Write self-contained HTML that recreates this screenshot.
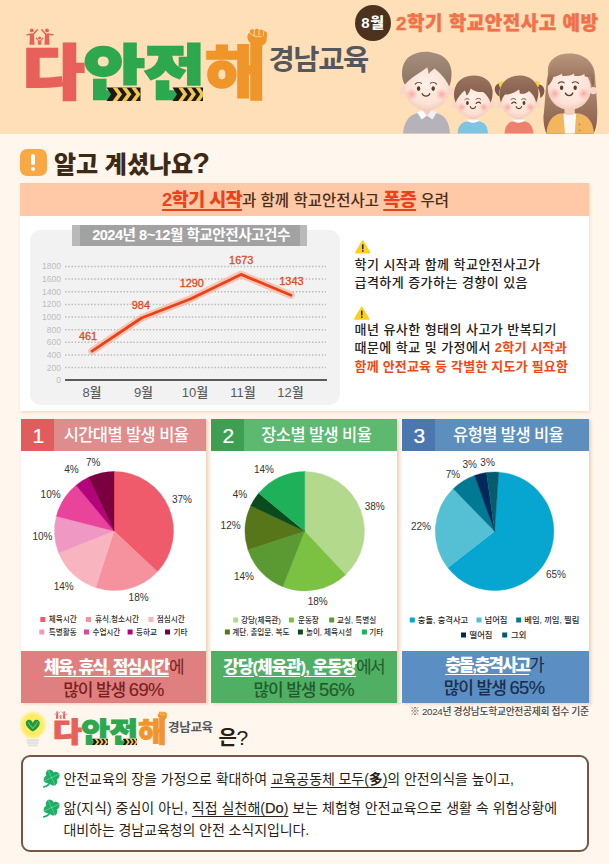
<!DOCTYPE html>
<html lang="ko">
<head>
<meta charset="utf-8">
<title>다안전해 경남교육 - 2학기 학교안전사고 예방</title>
<style>
*{margin:0;padding:0;box-sizing:border-box}
html,body{width:609px;height:864px;overflow:hidden}
body{background:#FFF6EE;font-family:"Liberation Sans","Noto Sans CJK KR",sans-serif;color:#222;position:relative}
.abs{position:absolute}
.nw{white-space:nowrap}
#hdr{left:0;top:0;width:609px;height:133.6px;background:#FFDFB7}
.logo{font-weight:900;white-space:nowrap;line-height:1;transform-origin:0 0}
.logo .c1{color:#E8605A;-webkit-text-stroke-color:#E8605A}.logo .c2{color:#2DA84F;-webkit-text-stroke-color:#2DA84F}.logo .c3{color:#F0952A;-webkit-text-stroke:1.5px #F0952A}
#logo1{left:22.6px;top:45px;font-size:59px;letter-spacing:-.7px;transform:scaleX(1.13);-webkit-text-stroke:2.4px;paint-order:stroke fill}
#org{left:268.5px;top:42px;font-size:28.5px;font-weight:700;color:#54585C;line-height:36px;letter-spacing:-1.4px}
#mon{left:354.5px;top:4.5px;width:36px;height:36px;border-radius:50%;background:#4B331D;color:#fff;font-size:15px;font-weight:900;text-align:center;line-height:35px;letter-spacing:.6px;padding-left:1px}
#ttl{left:396px;top:10.3px;font-size:19px;font-weight:900;color:#F1714A;line-height:28px;letter-spacing:.5px;-webkit-text-stroke:.35px #F1714A}
#q-ic{left:20px;top:148.5px;width:26.5px;height:27px;border-radius:7px;background:#F8A845}
#q-ic i{position:absolute;left:11.2px;top:5px;width:4px;height:11px;border-radius:2px;background:#fff}
#q-ic b{position:absolute;left:11.2px;top:18px;width:4px;height:4px;border-radius:2px;background:#fff}
#q-t{left:54px;top:145.5px;font-size:24px;font-weight:900;color:#3E2A14;line-height:34px;letter-spacing:0}
#panel{left:20px;top:183px;width:569px;height:228px;background:#fff;box-shadow:1px 1.5px 3px rgba(236,196,150,.6)}
#ban{left:20px;top:183px;width:569px;height:33px;background:#FFC8A6;text-align:center;line-height:33px;font-size:15.5px;font-weight:500;color:#4A2E1A;padding-left:2px}
#ban b{font-size:18.5px;font-weight:900;color:#E8431A;text-decoration:underline;text-decoration-thickness:1.5px;text-underline-offset:3px;letter-spacing:-.6px}
#gbox{left:30px;top:229.5px;width:310px;height:175px;border-radius:11px;background:#F2F2F2}
#glab{left:72px;top:225px;width:235px;height:21px;background:#B9B9B9}
#glab div{position:absolute;left:8px;top:0;width:220px;height:21px;padding-left:2px;background:#A2A2A2;color:#fff;font-size:14.6px;font-weight:700;line-height:21px;text-align:center;letter-spacing:-.5px;white-space:nowrap}
.para{left:354.5px;font-size:13px;font-weight:500;color:#222;line-height:18.8px;letter-spacing:.45px;white-space:nowrap}
.para em{font-style:normal;font-weight:700;color:#EE4A14;letter-spacing:.2px}
.card{top:418.5px;height:284px;background:#fff;box-shadow:1.5px 1px 2.5px rgba(222,170,125,.5)}
.card .hd{position:absolute;left:0;top:0;right:0;height:32px;color:#fff}
.card .no{position:absolute;left:0;top:0;width:33px;height:32px;font-size:21px;font-weight:400;text-align:center;line-height:33.5px;padding-left:1.5px;-webkit-text-stroke:.2px #fff}
.card .tt{position:absolute;left:33px;right:0;top:0;height:32px;font-size:16.5px;font-weight:500;text-align:center;line-height:32px;letter-spacing:-.6px;white-space:nowrap;padding-right:8px}
.card .ft{position:absolute;left:0;right:0;top:232px;text-align:center;font-size:17px;line-height:22px;letter-spacing:-1.6px;white-space:nowrap;padding-top:6px}
.card .ft span{letter-spacing:-1.05px;font-weight:500}
.card .ft i{font-style:normal;font-size:18.4px;letter-spacing:-.6px;-webkit-text-stroke:.15px}
.card .ft b{color:#fff;font-weight:900;text-decoration:underline;text-decoration-thickness:1.4px;text-underline-offset:3px}
#c1{left:21px;width:185px}
#c1 .hd{background:#DE8C8C}#c1 .no{background:#E15C5C}
#c1 .ft{background:#DF7F7F;color:#7A1F1F;height:52px}
#c2{left:211px;width:185.5px}
#c2 .hd{background:#5DB970}#c2 .no{background:#3E9E52}
#c2 .ft{background:#4FAF62;color:#1F5C2E;height:52px}#c2 .ft b{letter-spacing:-1.1px}
#c3{left:402px;width:187.2px}
#c3 .hd{background:#5C8EBE}#c3 .no{background:#4A78AE}
#c3 .ft{background:#5B8EC2;color:#1A2E4A;height:52px;padding-top:4.5px;padding-right:3px}#c3 .ft b{letter-spacing:-2.1px}
#note{left:410px;top:703.8px;font-size:9.8px;font-weight:500;color:#444;line-height:16px;letter-spacing:-.32px;white-space:nowrap}
#logo2{left:52.9px;top:718.6px;font-size:27.6px;letter-spacing:-.35px;transform:scaleX(1.13);-webkit-text-stroke:1.1px;paint-order:stroke fill}
#logo2 .c3{-webkit-text-stroke-width:.7px}
#org2{left:168px;top:719.5px;font-size:12.5px;font-weight:700;color:#54585C;line-height:16px;letter-spacing:-.3px}
#eun{left:218.5px;top:724.8px;font-size:20px;font-weight:700;color:#2A1D12;line-height:26px;letter-spacing:-.5px}
#ibox{left:20.5px;top:755.3px;width:568.3px;height:96.5px;border:2px solid #7A5546;border-radius:9px;background:#fff}
.il{left:63.5px;font-size:14px;font-weight:400;color:#2B1F18;line-height:19px;letter-spacing:-.08px;white-space:nowrap}
.il u{text-decoration-thickness:1px;text-underline-offset:2.5px}
svg text{font-family:"Liberation Sans","Noto Sans CJK KR",sans-serif}
</style>
</head>
<body>
<div id="hdr" class="abs"></div>

<!-- logo -->
<div id="logo1" class="abs logo"><span class="c1">다</span><span class="c2">안전</span><span class="c3">해</span></div>
<div id="org" class="abs nw">경남교육</div>
<div id="mon" class="abs nw">8월</div>
<div id="ttl" class="abs nw">2학기 학교안전사고 예방</div>

<svg class="abs" style="left:0;top:0" width="609" height="864" viewBox="0 0 609 864">
<defs>
<radialGradient id="skin" cx="50%" cy="42%" r="62%"><stop offset="0" stop-color="#FFF1EA"/><stop offset=".7" stop-color="#FCE2D6"/><stop offset="1" stop-color="#F2C6B4"/></radialGradient>
<radialGradient id="chk" cx="50%" cy="50%" r="50%"><stop offset="0" stop-color="#F79C98" stop-opacity=".85"/><stop offset="1" stop-color="#F9B3AA" stop-opacity="0"/></radialGradient>
<linearGradient id="hairD" x1="0" y1="0" x2="0" y2="1"><stop offset="0" stop-color="#A58E7C"/><stop offset="1" stop-color="#8C7464"/></linearGradient>
<linearGradient id="hairK" x1="0" y1="0" x2="0" y2="1"><stop offset="0" stop-color="#9A7560"/><stop offset="1" stop-color="#80594A"/></linearGradient>
<linearGradient id="hairM" x1="0" y1="0" x2="0" y2="1"><stop offset="0" stop-color="#B8947D"/><stop offset=".55" stop-color="#A47E67"/><stop offset="1" stop-color="#875B46"/></linearGradient>
<radialGradient id="bulb" cx="50%" cy="50%" r="50%"><stop offset="0" stop-color="#FFEE5C"/><stop offset=".72" stop-color="#FFEB60"/><stop offset="1" stop-color="#FFF2A0"/></radialGradient>
<g id="clover"><path d="M-1 4C-2.4 6.8 -4.8 8.8 -7.8 9.3" stroke="#1FAE66" stroke-width="1.7" fill="none" stroke-linecap="round"/><g transform="rotate(20)" fill="#1FAE66"><circle cx="-3.1" cy="-3.1" r="3.9"/><circle cx="3.1" cy="-3.1" r="3.9"/><circle cx="-3.1" cy="3.1" r="3.9"/><circle cx="3.1" cy="3.1" r="3.9"/><path d="M-6.2 -6.2L6.2 6.2M6.2 -6.2L-6.2 6.2" stroke="#7FD8AC" stroke-width=".55" fill="none"/></g></g>
</defs>

<!-- hazard stripes under logo -->
<g id="hz1"><path d="M106.5 87.6H140.5V101H106.5L111 94.3Z" fill="#1B1A17"/><path d="M112.5 87.6h4.6l5 6.7-5 6.7h-4.6l5-6.7zM121.8 87.6h4.6l5 6.7-5 6.7h-4.6l5-6.7zM131.1 87.6h4.6l4.8 6.7-4.8 6.7h-4.6l5-6.7z" fill="#F4C64B"/></g>
<g id="hz2"><path d="M172.5 87.6H203V101H172.5L177 94.3Z" fill="#1B1A17"/><path d="M178.2 87.6h4.4l4.8 6.7-4.8 6.7h-4.4l4.8-6.7zM186.8 87.6h4.4l4.8 6.7-4.8 6.7h-4.4l4.8-6.7zM195.4 87.6h4.4l3.2 4.4v4.6l-3.2 4.4h-4.4l4.8-6.7z" fill="#F4C64B"/></g>

<!-- people on top of 다 -->
<g id="ppl" fill="#E8605A" stroke="#E8605A" stroke-linecap="round">
<circle cx="31.8" cy="30.4" r="1.9" stroke="none"/><path d="M30 33.4h4l.5 11.4h-5z" stroke="none"/><path d="M30.6 34.2L27.2 34.8M33.4 34L37.4 29.8" stroke-width="1.5" fill="none"/>
<circle cx="47" cy="30.4" r="1.9" stroke="none"/><path d="M45 33.4h4l.5 11.4h-5z" stroke="none"/><path d="M48.6 34.2L52.8 34.8M45.6 34L41.8 29.8" stroke-width="1.5" fill="none"/>
<circle cx="39.6" cy="38" r="1.5" stroke="none"/><path d="M38.2 40.4h2.8l.3 4.4h-3.4z" stroke="none"/><path d="M38.6 41L36.4 38.2M40.6 41L42.8 38.2" stroke-width="1.1" fill="none"/>
</g>

<!-- fist on top of 해 -->
<g id="fist"><path d="M254.5 47V44.5C250.5 43.5 247.2 41 247.4 36.6C247.5 34.4 248.6 33.2 250 33V31.2C250 29 253.6 28.6 254.2 30.4C255.4 28 258.8 28.4 259 30.6C260.4 28.8 263.4 29.4 263.4 31.6C265.2 30.8 267.2 32 267 34.2L266.6 40C266.4 43 264.4 44.6 262.4 45.2V47Z" fill="#F0952A"/>
<path d="M254.2 30.6V35.4M259 30.8V35.4M263.4 31.8V35.6M250.2 33.2C252.5 36.4 257 37.2 261.5 36.6" stroke="#FFE0B4" stroke-width=".9" fill="none" stroke-linecap="round"/></g>

<!-- family -->
<clipPath id="hc"><rect x="380" y="0" width="229" height="133.6"/></clipPath>
<g clip-path="url(#hc)">
<g id="dad">
<path d="M403 134.5C403.5 122 409 114.5 418.5 113H435.5C445 114.5 449.5 122 450 134.5Z" fill="#B6B2BA"/>
<rect x="421.5" y="104" width="11" height="11" rx="3" fill="#F3CDBD"/>
<path d="M417.2 112.2L422.4 110.2L427 115.6L421.6 119.4Z" fill="#FBFBFC"/><path d="M436.8 112.2L431.6 110.2L427 115.6L432.4 119.4Z" fill="#F1F1F4"/>
<circle cx="403.6" cy="91" r="4.3" fill="#F8D6C8"/><circle cx="450.4" cy="91" r="4.3" fill="#F8D6C8"/>
<ellipse cx="427" cy="88" rx="22.6" ry="22.4" fill="url(#skin)"/>
<path d="M405 84.5C400.5 78 400.5 63 409.5 56.5C416 51.5 427 50.5 434 53C445 54.5 452.5 64 451.5 75C451.3 80 450.4 84 449.2 86.5C446.5 80 441 73.5 434.5 68.5C432 70.5 430 72 428.6 74.2C428.4 71 428 69 427 67.6C421 72.5 411.5 77 405 84.5Z" fill="url(#hairD)"/>
<path d="M424.4 68.8C425.6 66.6 428.4 66.4 429.6 68.6C428 68.2 426 68.2 424.4 68.8Z" fill="#F08A80" opacity=".75"/>
<circle cx="411.8" cy="94.2" r="6.2" fill="url(#chk)"/><circle cx="441.6" cy="94.2" r="6.2" fill="url(#chk)"/>
<ellipse cx="418.6" cy="88.6" rx="1.7" ry="2.3" fill="#5B3B2F"/><ellipse cx="433.2" cy="88.6" rx="1.7" ry="2.3" fill="#5B3B2F"/>
<path d="M415.2 84.2C416.8 82.2 419.6 82 421.4 83.4M430.4 83.4C432.2 82 435 82.2 436.6 84.2" stroke="#6B4A3C" stroke-width="1.1" fill="none" stroke-linecap="round"/>
<path d="M422.2 93.6C423.4 97 428.6 97 429.8 93.6" stroke="#5B3B2F" stroke-width="1.3" fill="none" stroke-linecap="round"/>
</g>
<g id="boy">
<path d="M457.5 134.5C457.8 126.5 461 122.6 466.5 121.6H479.5C485 122.6 487.8 126.5 488 134.5Z" fill="#7FC4E2"/>
<rect x="469" y="114" width="8" height="8.5" rx="2.5" fill="#F3CDBD"/>
<path d="M466.8 120.6C470 123.4 476 123.4 479.2 120.6L478.6 119.4H467.4Z" fill="#FBFBFC"/>
<circle cx="454.4" cy="105" r="3.2" fill="#F8D6C8"/><circle cx="491.8" cy="105" r="3.2" fill="#F8D6C8"/>
<ellipse cx="473" cy="101" rx="17.8" ry="17.4" fill="url(#skin)"/>
<path d="M455.6 102.5C452.6 96 453.4 85.5 460.5 79.8C466 75.4 475 74.6 481 76.6C489.5 79 494 88 492.4 96C492 99 491.4 101 490.6 102.5C489 98 486.4 94.6 483 92C478.4 92.4 474 91 470.6 88.4C469.6 92 468.6 94 466.4 95.6C466.2 93 465.6 91.6 464.6 90.4C461 93.6 457.6 97.6 455.6 102.5Z" fill="url(#hairK)"/>
<circle cx="461.8" cy="107.2" r="5" fill="url(#chk)"/><circle cx="483.8" cy="107.2" r="5" fill="url(#chk)"/>
<ellipse cx="467.4" cy="103" rx="1.4" ry="1.9" fill="#5B3B2F"/>
<path d="M476.2 103.4C477.2 101.8 479.4 101.8 480.4 103.2" stroke="#5B3B2F" stroke-width="1.2" fill="none" stroke-linecap="round"/>
<path d="M464.8 99.6C466 98.4 468 98.4 469.2 99.4M475.8 99.2C477.4 98 479.6 98.2 480.8 99.4" stroke="#6B4A3C" stroke-width=".9" fill="none" stroke-linecap="round"/>
<path d="M470.2 106.6C471 109.2 474.8 109.2 475.6 106.6" stroke="#5B3B2F" stroke-width="1.2" fill="none" stroke-linecap="round"/>
</g>
<g id="girl">
<path d="M504.5 134.5C504.8 126.5 507.5 122.6 512.5 121.6H525C530 122.6 533 126.5 533.4 134.5Z" fill="#F0806E"/>
<rect x="514.6" y="114" width="8" height="8.5" rx="2.5" fill="#F3CDBD"/>
<path d="M512.4 120.6C515.6 123.4 521.6 123.4 524.8 120.6L524.2 119.4H513Z" fill="#FBFBFC"/>
<path d="M499.4 83.4C495.4 83.8 493.6 88.4 495.6 92.4C496.6 94.6 498.4 96 499.8 96.4C498.8 92 499.6 88.4 501.6 85.4Z" fill="#80594A"/>
<path d="M538.4 84.4C542.6 84.2 545.2 88.4 544.2 92.8C543.6 95.4 541.8 97.4 540.2 98C540.6 93.4 539.2 89.4 536.8 86.4Z" fill="#80594A"/>
<path d="M498.4 82.4L502.6 81L503.8 86.2L499.8 87.4Z" fill="#F6D33A"/><path d="M535.2 80.6L539.6 82L538.6 87L534.4 85.8Z" fill="#F6D33A"/>
<circle cx="500" cy="105" r="3.2" fill="#F8D6C8"/><circle cx="537.2" cy="105" r="3.2" fill="#F8D6C8"/>
<ellipse cx="518.6" cy="101" rx="17.6" ry="17.4" fill="url(#skin)"/>
<path d="M501 102.5C498 95 499.4 85 506.5 79.6C512 75.4 521 74.6 527 76.8C535.5 79.4 540 88.4 538 96.4C537.6 99 537 101 536.2 102.5C535 97.4 532.4 93.6 529 91C526.4 93.4 523 94.4 519.6 93.6C519.8 91.8 519.6 90.6 519 89.6C514.4 93.4 508.4 94.6 505 94.4C503 96.6 501.8 99.4 501 102.500Z" fill="url(#hairK)"/>
<circle cx="507.6" cy="107.2" r="5" fill="url(#chk)"/><circle cx="530.2" cy="107.2" r="5" fill="url(#chk)"/>
<path d="M511.8 103.4C512.8 101.8 515 101.8 516 103.2" stroke="#5B3B2F" stroke-width="1.2" fill="none" stroke-linecap="round"/>
<ellipse cx="524" cy="103" rx="1.4" ry="1.9" fill="#5B3B2F"/>
<path d="M511 99.4C512.4 98.2 514.6 98.2 515.8 99.4M521.6 99.4C522.8 98.4 524.8 98.4 526 99.6" stroke="#6B4A3C" stroke-width=".9" fill="none" stroke-linecap="round"/>
<path d="M516.2 106.6C517 109.2 520.8 109.2 521.6 106.6" stroke="#5B3B2F" stroke-width="1.2" fill="none" stroke-linecap="round"/>
</g>
<g id="mom">
<path d="M548 74C546 60 557 53 570 53.4C584 53.4 595.6 62 595.2 78C596 92 598 106 597 120C596.6 126 595 131 593 135L547 135C545 131 543.4 124 543.4 117C545.4 102 545 88 548 74Z" fill="url(#hairM)"/>
<path d="M546.4 134.5C546.8 122.4 552 115 560.5 113.4H579C588 115 593.6 122.4 594 134.5Z" fill="#F2B75E"/>
<path d="M563.4 113.4H576.2L574.6 134.5H565Z" fill="#FBF8F4"/>
<circle cx="579.4" cy="124.4" r=".9" fill="#C98A32"/><circle cx="579.6" cy="130.4" r=".9" fill="#C98A32"/>
<rect x="564.4" y="104" width="10.4" height="11" rx="3" fill="#F3CDBD"/>
<circle cx="593.4" cy="90.6" r="3.6" fill="#F8D6C8"/>
<ellipse cx="569.4" cy="88.6" rx="21.6" ry="21.4" fill="url(#skin)"/>
<path d="M548 86C546.4 72 552 60 562 56C570 53 581 54.4 587.6 60.4C593.6 66 595.4 76 593.2 87C591.6 83.4 590.6 80 590.4 76.6C588.4 77 586.4 76.8 584.6 76.2L584.4 73.8C582.4 75.8 578 76.4 574.4 76L574 73.6C571 75.8 566 76.4 562.4 76L562 73.8C559.4 75.4 556.4 76.6 553.6 76.8C552.4 80.4 550.4 83.6 548 86Z" fill="url(#hairM)"/>
<circle cx="554.8" cy="93.6" r="6.4" fill="url(#chk)"/><circle cx="583.8" cy="93.6" r="6.4" fill="url(#chk)"/>
<ellipse cx="561.6" cy="87.8" rx="1.7" ry="2.3" fill="#5B3B2F"/><ellipse cx="575.2" cy="87.8" rx="1.7" ry="2.3" fill="#5B3B2F"/>
<path d="M558.2 83.4C559.8 81.6 562.6 81.4 564.2 82.8M572.4 82.8C574.2 81.4 577 81.6 578.6 83.4" stroke="#6B4A3C" stroke-width="1.1" fill="none" stroke-linecap="round"/>
<path d="M565.4 93C566.6 96.4 571.6 96.4 572.8 93" stroke="#5B3B2F" stroke-width="1.3" fill="none" stroke-linecap="round"/>
</g>

</g>
<!-- light bulb -->
<g id="bulbic">
<circle cx="32.8" cy="724.8" r="13.8" fill="#FFF3A0" opacity=".55"/>
<path d="M32.8 712C40 712 45.4 717.6 45.4 724.6C45.4 729.6 42.6 732.8 40.4 735.2C39.4 736.4 39 737.4 39 738.6H26.600C26.6 737.4 26.2 736.4 25.2 735.2C23 732.8 20.2 729.6 20.2 724.6C20.2 717.6 25.6 712 32.8 712Z" fill="url(#bulb)"/>
<path d="M32.8 731.6C28.6 729 25.8 726.2 25.8 723.2C25.8 720.6 27.8 719.4 29.8 719.8C31.4 720.2 32.4 721.600 32.800 723.200C33.2 721.6 34.2 720.2 35.8 719.8C37.8 719.4 39.8 720.6 39.8 723.2C39.8 726.2 37 729 32.8 731.600Z" fill="#23963F"/>
<path d="M28.2 722C29.4 724.4 31 726.600 32.800 728.400C34.600 726.6 36.2 724.4 37.4 722" stroke="#5CC46A" stroke-width="1.1" fill="none" stroke-linecap="round"/>
<path d="M27.4 740.2H38.2M27.8 742.8H37.8M29 745.400H36.600" stroke="#E0E0DE" stroke-width="1.9" stroke-linecap="round" fill="none"/>
</g>
</svg>


<!-- section title -->
<div id="q-ic" class="abs"><i></i><b></b></div>
<div id="q-t" class="abs nw">알고 계셨나요<span style="font-size:29px;letter-spacing:0;margin-left:-1px">?</span></div>

<div id="panel" class="abs"></div>
<div id="ban" class="abs nw"><b>2학기 시작</b>과 함께 학교안전사고 <b>폭증</b> 우려</div>
<div id="gbox" class="abs"></div>
<div id="glab" class="abs"><div>2024년 8~12월 학교안전사고건수</div></div>

<svg class="abs" style="left:0;top:0" width="609" height="864" viewBox="0 0 609 864">
<line x1="65" y1="367.6" x2="326" y2="367.6" stroke="#BDBDBD" stroke-width="1.5" stroke-dasharray="1.5 1.75"/>
<line x1="65" y1="355.0" x2="326" y2="355.0" stroke="#BDBDBD" stroke-width="1.5" stroke-dasharray="1.5 1.75"/>
<line x1="65" y1="342.3" x2="326" y2="342.3" stroke="#BDBDBD" stroke-width="1.5" stroke-dasharray="1.5 1.75"/>
<line x1="65" y1="329.7" x2="326" y2="329.7" stroke="#BDBDBD" stroke-width="1.5" stroke-dasharray="1.5 1.75"/>
<line x1="65" y1="317.0" x2="326" y2="317.0" stroke="#BDBDBD" stroke-width="1.5" stroke-dasharray="1.5 1.75"/>
<line x1="65" y1="304.4" x2="326" y2="304.4" stroke="#BDBDBD" stroke-width="1.5" stroke-dasharray="1.5 1.75"/>
<line x1="65" y1="291.7" x2="326" y2="291.7" stroke="#BDBDBD" stroke-width="1.5" stroke-dasharray="1.5 1.75"/>
<line x1="65" y1="279.1" x2="326" y2="279.1" stroke="#BDBDBD" stroke-width="1.5" stroke-dasharray="1.5 1.75"/>
<line x1="65" y1="266.4" x2="326" y2="266.4" stroke="#BDBDBD" stroke-width="1.5" stroke-dasharray="1.5 1.75"/>

<text x="61" y="383.3" text-anchor="end" font-size="8.6" fill="#BDBDBD">0</text>
<text x="61" y="370.6" text-anchor="end" font-size="8.6" fill="#BDBDBD">200</text>
<text x="61" y="358.0" text-anchor="end" font-size="8.6" fill="#BDBDBD">400</text>
<text x="61" y="345.3" text-anchor="end" font-size="8.6" fill="#BDBDBD">600</text>
<text x="61" y="332.7" text-anchor="end" font-size="8.6" fill="#BDBDBD">800</text>
<text x="61" y="320.0" text-anchor="end" font-size="8.6" fill="#BDBDBD">1000</text>
<text x="61" y="307.4" text-anchor="end" font-size="8.6" fill="#BDBDBD">1200</text>
<text x="61" y="294.7" text-anchor="end" font-size="8.6" fill="#BDBDBD">1400</text>
<text x="61" y="282.1" text-anchor="end" font-size="8.6" fill="#BDBDBD">1600</text>
<text x="61" y="269.4" text-anchor="end" font-size="8.6" fill="#BDBDBD">1800</text>

<line x1="65" y1="380" x2="327" y2="380" stroke="#5A5A5A" stroke-width="2"/>
<polyline points="92,351.1 141.5,318.0 191,298.7 241,274.4 291,295.3" fill="none" stroke="#F9B9A6" stroke-width="7.5" stroke-linejoin="round" stroke-linecap="round" opacity=".8"/>
<polyline points="92,351.1 141.5,318.0 191,298.7 241,274.4 291,295.3" fill="none" stroke="#EA4217" stroke-width="2.8" stroke-linejoin="round" stroke-linecap="round"/>
<text x="88" y="339.9" text-anchor="middle" font-size="10.9" fill="#DC4A1E" stroke="#DC4A1E" stroke-width=".3">461</text>
<text x="140.9" y="308.9" text-anchor="middle" font-size="10.9" fill="#DC4A1E" stroke="#DC4A1E" stroke-width=".3">984</text>
<text x="191.8" y="286.9" text-anchor="middle" font-size="10.9" fill="#DC4A1E" stroke="#DC4A1E" stroke-width=".3">1290</text>
<text x="241.2" y="264.4" text-anchor="middle" font-size="10.9" fill="#DC4A1E" stroke="#DC4A1E" stroke-width=".3">1673</text>
<text x="291.4" y="284.5" text-anchor="middle" font-size="10.9" fill="#DC4A1E" stroke="#DC4A1E" stroke-width=".3">1343</text>
<text x="92" y="396.5" text-anchor="middle" font-size="13" font-weight="500" fill="#5A5A5A">8월</text>
<text x="143.5" y="396.5" text-anchor="middle" font-size="13" font-weight="500" fill="#5A5A5A">9월</text>
<text x="195" y="396.5" text-anchor="middle" font-size="13" font-weight="500" fill="#5A5A5A">10월</text>
<text x="243" y="396.5" text-anchor="middle" font-size="13" font-weight="500" fill="#5A5A5A">11월</text>
<text x="290.5" y="396.5" text-anchor="middle" font-size="13" font-weight="500" fill="#5A5A5A">12월</text>

<!-- warning icons -->
<g id="warn1"><path d="M362.7 241.2L369.4 252.5H356Z" fill="#FDD01C" stroke="#FDD01C" stroke-width="1.8" stroke-linejoin="round"/><rect x="362" y="244.4" width="1.5" height="4.8" fill="#222"/><rect x="362" y="250.2" width="1.5" height="1.5" fill="#222"/></g>
<g id="warn2"><path d="M361.7 307.4L368.4 318.9H355Z" fill="#FDD01C" stroke="#FDD01C" stroke-width="1.8" stroke-linejoin="round"/><rect x="361" y="310.6" width="1.5" height="4.8" fill="#222"/><rect x="361" y="316.4" width="1.5" height="1.500" fill="#222"/></g>
</svg>

<div class="abs para" style="top:255.6px;line-height:18.7px">학기 시작과 함께 학교안전사고가<br>급격하게 증가하는 경향이 있음</div>
<div class="abs para" style="top:320.5px">매년 유사한 형태의 사고가 반복되기<br>때문에 학교 및 가정에서 <em>2학기 시작과</em><br><em>함께 안전교육 등 각별한 지도가 필요함</em></div>

<!-- cards -->
<div id="c1" class="abs card"><div class="hd"><div class="no">1</div><div class="tt">시간대별 발생 비율</div></div>
<div class="ft"><b>체육, 휴식, 점심시간</b>에<br><span>많이 발생 <i>69%</i></span></div></div>
<div id="c2" class="abs card"><div class="hd"><div class="no">2</div><div class="tt">장소별 발생 비율</div></div>
<div class="ft"><b>강당(체육관), 운동장</b>에서<br><span>많이 발생 <i>56%</i></span></div></div>
<div id="c3" class="abs card"><div class="hd"><div class="no">3</div><div class="tt">유형별 발생 비율</div></div>
<div class="ft"><b>충돌,충격사고</b>가<br><span>많이 발생 <i>65%</i></span></div></div>

<svg class="abs" style="left:0;top:0" width="609" height="864" viewBox="0 0 609 864">
<path d="M114.00 531.00L114.00 471.50A59.5 59.5 0 0 1 157.37 571.73Z" fill="#F05B6B" stroke="#F05B6B" stroke-width=".4"/>
<path d="M114.00 531.00L157.37 571.73A59.5 59.5 0 0 1 95.61 587.59Z" fill="#F5929E" stroke="#F5929E" stroke-width=".4"/>
<path d="M114.00 531.00L95.61 587.59A59.5 59.5 0 0 1 58.68 552.90Z" fill="#F8B5BF" stroke="#F8B5BF" stroke-width=".4"/>
<path d="M114.00 531.00L58.68 552.90A59.5 59.5 0 0 1 56.37 516.20Z" fill="#F098C4" stroke="#F098C4" stroke-width=".4"/>
<path d="M114.00 531.00L56.37 516.20A59.5 59.5 0 0 1 76.07 485.15Z" fill="#E9439B" stroke="#E9439B" stroke-width=".4"/>
<path d="M114.00 531.00L76.07 485.15A59.5 59.5 0 0 1 88.67 477.16Z" fill="#B5037B" stroke="#B5037B" stroke-width=".4"/>
<path d="M114.00 531.00L88.67 477.16A59.5 59.5 0 0 1 114.00 471.50Z" fill="#7A0040" stroke="#7A0040" stroke-width=".4"/>
<path d="M304.70 531.20L304.70 471.50A59.7 59.7 0 0 1 345.57 574.72Z" fill="#B2D98C" stroke="#B2D98C" stroke-width=".4"/>
<path d="M304.70 531.20L345.57 574.72A59.7 59.7 0 0 1 282.72 586.71Z" fill="#7BC242" stroke="#7BC242" stroke-width=".4"/>
<path d="M304.70 531.20L282.72 586.71A59.7 59.7 0 0 1 247.92 549.65Z" fill="#5B9A32" stroke="#5B9A32" stroke-width=".4"/>
<path d="M304.70 531.20L247.92 549.65A59.7 59.7 0 0 1 250.68 505.78Z" fill="#57761A" stroke="#57761A" stroke-width=".4"/>
<path d="M304.70 531.20L250.68 505.78A59.7 59.7 0 0 1 258.70 493.15Z" fill="#0B4A1C" stroke="#0B4A1C" stroke-width=".4"/>
<path d="M304.70 531.20L258.70 493.15A59.7 59.7 0 0 1 304.70 471.50Z" fill="#1FB15A" stroke="#1FB15A" stroke-width=".4"/>
<path d="M494.60 531.30L498.74 472.14A59.3 59.3 0 1 1 447.86 567.80Z" fill="#06A6D0" stroke="#06A6D0" stroke-width=".4"/>
<path d="M494.60 531.30L447.86 567.80A59.3 59.3 0 0 1 453.26 488.78Z" fill="#55C0D4" stroke="#55C0D4" stroke-width=".4"/>
<path d="M494.60 531.30L453.26 488.78A59.3 59.3 0 0 1 474.57 475.48Z" fill="#007A94" stroke="#007A94" stroke-width=".4"/>
<path d="M494.60 531.30L474.57 475.48A59.3 59.3 0 0 1 486.48 472.56Z" fill="#00285A" stroke="#00285A" stroke-width=".4"/>
<path d="M494.60 531.30L486.48 472.56A59.3 59.3 0 0 1 498.74 472.14Z" fill="#045C6C" stroke="#045C6C" stroke-width=".4"/>
<text x="182" y="502.6" text-anchor="middle" font-size="10" fill="#333">37%</text>
<text x="138.6" y="601.2" text-anchor="middle" font-size="10" fill="#333">18%</text>
<text x="63.7" y="590.3" text-anchor="middle" font-size="10" fill="#333">14%</text>
<text x="42.5" y="540.3" text-anchor="middle" font-size="10" fill="#333">10%</text>
<text x="50.6" y="498.2" text-anchor="middle" font-size="10" fill="#333">10%</text>
<text x="71.5" y="473.3" text-anchor="middle" font-size="10" fill="#333">4%</text>
<text x="93.3" y="466.1" text-anchor="middle" font-size="10" fill="#333">7%</text>
<text x="374.7" y="509.6" text-anchor="middle" font-size="10" fill="#333">38%</text>
<text x="317.7" y="604.6" text-anchor="middle" font-size="10" fill="#333">18%</text>
<text x="244" y="579.5" text-anchor="middle" font-size="10" fill="#333">14%</text>
<text x="230.6" y="528.9" text-anchor="middle" font-size="10" fill="#333">12%</text>
<text x="240" y="497.6" text-anchor="middle" font-size="10" fill="#333">4%</text>
<text x="264" y="472.6" text-anchor="middle" font-size="10" fill="#333">14%</text>
<text x="556" y="577.6" text-anchor="middle" font-size="10" fill="#333">65%</text>
<text x="421" y="530.4" text-anchor="middle" font-size="10" fill="#333">22%</text>
<text x="453" y="477.6" text-anchor="middle" font-size="10" fill="#333">7%</text>
<text x="469.7" y="468.1" text-anchor="middle" font-size="10" fill="#333">3%</text>
<text x="487.6" y="465.6" text-anchor="middle" font-size="10" fill="#333">3%</text>
<rect x="40.3" y="617.0" width="5" height="5" fill="#F05B6B"/><text x="48.7" y="622.1" font-size="7.6" font-weight="500" fill="#2A2A2A">체육시간</text>
<rect x="86" y="617.0" width="5" height="5" fill="#F5929E"/><text x="95" y="622.1" font-size="7.6" font-weight="500" fill="#2A2A2A">휴식,청소시간</text>
<rect x="148.5" y="617.0" width="5" height="5" fill="#F8B5BF"/><text x="156.7" y="622.1" font-size="7.6" font-weight="500" fill="#2A2A2A">점심시간</text>
<rect x="39.3" y="629.5" width="5" height="5" fill="#F098C4"/><text x="48.7" y="634.6" font-size="7.6" font-weight="500" fill="#2A2A2A">특별활동</text>
<rect x="84" y="629.5" width="5" height="5" fill="#E9439B"/><text x="92.4" y="634.6" font-size="7.6" font-weight="500" fill="#2A2A2A">수업시간</text>
<rect x="127.6" y="629.5" width="5" height="5" fill="#B5037B"/><text x="136" y="634.6" font-size="7.6" font-weight="500" fill="#2A2A2A">등하교</text>
<rect x="165" y="629.5" width="5" height="5" fill="#7A0040"/><text x="173.5" y="634.6" font-size="7.6" font-weight="500" fill="#2A2A2A">기타</text>

<rect x="233.2" y="617.5" width="5" height="5" fill="#B2D98C"/><text x="240.9" y="622.6" font-size="7.6" font-weight="500" fill="#2A2A2A">강당(체육관)</text>
<rect x="288.9" y="617.5" width="5" height="5" fill="#7BC242"/><text x="297.9" y="622.6" font-size="7.6" font-weight="500" fill="#2A2A2A">운동장</text>
<rect x="329.2" y="617.5" width="5" height="5" fill="#5B9A32"/><text x="337" y="622.6" font-size="7.6" font-weight="500" fill="#2A2A2A">교실, 특별실</text>
<rect x="224.9" y="629.5" width="5" height="5" fill="#57761A"/><text x="232.2" y="634.6" font-size="7.6" font-weight="500" fill="#2A2A2A">계단, 출입문, 복도</text>
<rect x="297.9" y="629.5" width="5" height="5" fill="#0B4A1C"/><text x="305.9" y="634.6" font-size="7.6" font-weight="500" fill="#2A2A2A">놀이, 체육시설</text>
<rect x="361.9" y="629.5" width="5" height="5" fill="#1FB15A"/><text x="369.3" y="634.6" font-size="7.6" font-weight="500" fill="#2A2A2A">기타</text>

<rect x="409.8" y="617.5" width="5" height="5" fill="#06A6D0"/><text x="417.8" y="622.6" font-size="8.3" font-weight="500" fill="#2A2A2A">충돌, 충격사고</text>
<rect x="476.5" y="617.5" width="5" height="5" fill="#55C0D4"/><text x="484.6" y="622.6" font-size="8.3" font-weight="500" fill="#2A2A2A">넘어짐</text>
<rect x="516.2" y="617.5" width="5" height="5" fill="#007A94"/><text x="524.3" y="622.6" font-size="8.3" font-weight="500" fill="#2A2A2A">베임, 끼임, 찔림</text>
<rect x="461" y="632.5" width="5" height="5" fill="#00285A"/><text x="469.5" y="637.6" font-size="8.3" font-weight="500" fill="#2A2A2A">떨어짐</text>
<rect x="502.2" y="632.5" width="5" height="5" fill="#045C6C"/><text x="511" y="637.6" font-size="8.3" font-weight="500" fill="#2A2A2A">그외</text>

</svg>

<div id="note" class="abs">※ 2024년 경상남도학교안전공제회 접수 기준</div>

<!-- bottom -->
<div id="logo2" class="abs logo"><span class="c1">다</span><span class="c2">안전</span><span class="c3">해</span></div>
<div id="org2" class="abs nw">경남교육</div>
<div id="eun" class="abs nw">은<span style="font-weight:400;font-size:21px">?</span></div>
<div id="ibox" class="abs"></div>
<svg class="abs" style="left:0;top:0" width="609" height="864" viewBox="0 0 609 864"><g transform="translate(42.2 697.95) scale(.467)"><use href="#hz1"/><use href="#hz2"/><use href="#ppl"/><use href="#fist"/></g><g transform="translate(51.6 777.6)"><use href="#clover"/></g><g transform="translate(51.6 807.6)"><use href="#clover"/></g></svg>
<div class="abs il" style="top:769.5px">안전교육의 장을 가정으로 확대하여 <u>교육공동체 모두(<b>多</b>)</u>의 안전의식을 높이고,</div>
<div class="abs il" style="top:799.2px;letter-spacing:.03px">앎(지식) 중심이 아닌, <u>직접 실천해(<span style="font-size:14.6px;-webkit-text-stroke:.25px">Do</span>)</u> 보는 체험형 안전교육으로 생활 속 위험상황에</div>
<div class="abs il" style="top:821.3px">대비하는 경남교육청의 안전 소식지입니다.</div>

</body>
</html>
